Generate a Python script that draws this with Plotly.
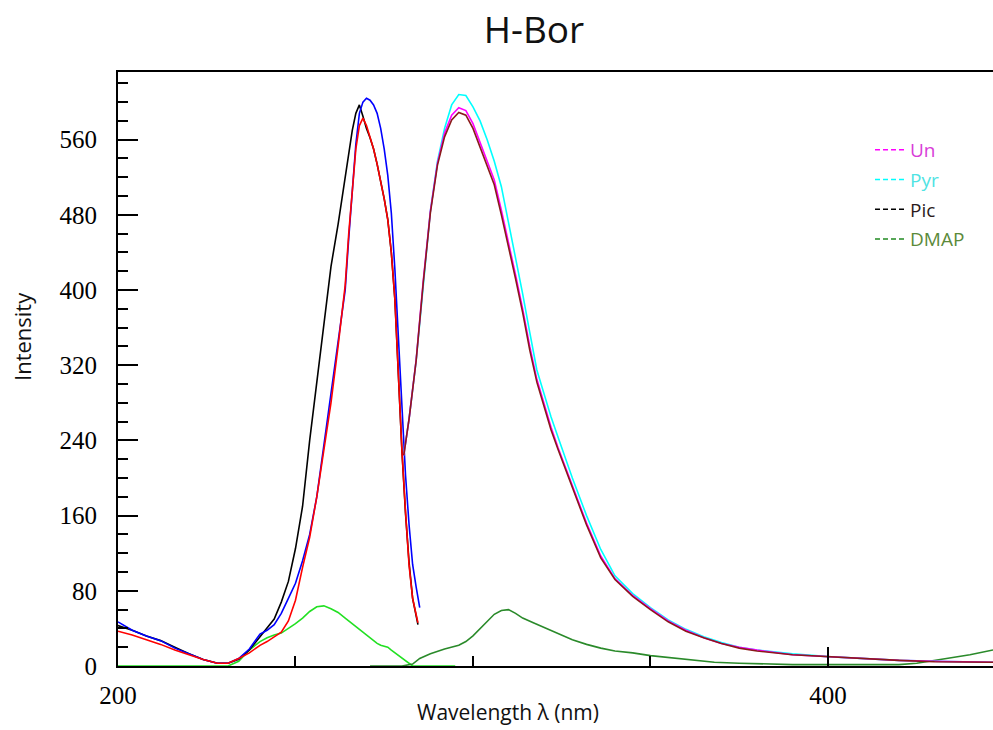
import plotly.graph_objects as go

# ---------------- data ----------------
# excitation side (left band)
ex_wl = [200, 204, 208, 212, 216, 220, 224, 228, 231, 234, 237, 240, 242, 244, 246, 248,
         250, 252, 254, 256, 258, 260, 262, 264, 265, 266, 267, 268, 269, 270, 271, 272,
         273, 274, 275, 276, 277, 278, 279, 280, 281, 282, 283, 284, 284.5, 285, 290, 295]

ex_blue = [47, 38, 32, 27, 19, 13, 7, 3, 3, 8, 18, 34, 38, 44, 56, 72,
           88, 112, 140, 180, 235, 285, 340, 400, 455, 510, 555, 588, 600, 604, 602, 597,
           588, 572, 550, 522, 482, 422, 348, 275, 203, 150, 108, 84, 72, 62, None, None]

ex_black = [43, 38, 32, 27, 20, 13, 7, 3, 3, 7, 17, 31, 40, 50, 68, 90,
            125, 170, 240, 300, 365, 425, 470, 522, 545, 570, 588, 597, 585, 572, 562, 550,
            534, 517, 497, 475, 440, 390, 308, 228, 162, 110, 72, 52, 44, None, None, None]

ex_red = [37, 33, 28, 23, 17, 12, 7, 3, 3, 8, 14, 22, 26, 31, 36, 48,
          70, 105, 137, 180, 228, 280, 340, 405, 460, 510, 550, 575, 583, 575, 563, 550,
          534, 517, 497, 475, 440, 390, 308, 228, 164, 107, 72, 53, 46, None, None, None]

ex_dmap = [0, 0, 0, 0, 0, 0, 0, 0, 0, 5, 17, 26, 30, 33, 35, 40,
           45, 51, 58, 63, 64, 61, 57, 51, 48, 45, 42, 38, 35, 32, 29, 26,
           24, 22, 21, 20, 17, 14, 11, 8, 5, 2, 0, 0, 0, 0, 0, 0]

# emission side (right band)
em_wl = [280.5, 282, 284, 286, 288, 290, 292, 294, 296, 298, 300, 302, 304, 306, 308, 310,
         312, 314, 316, 318, 320, 322, 324, 328, 332, 336, 340, 345, 350, 355, 360, 365,
         370, 375, 380, 390, 400, 410, 420, 430, 440, 446.5]

em_un = [224, 263, 326, 410, 484, 535, 567, 586, 594, 591, 577, 557, 537, 517, 485, 452,
         416, 380, 340, 305, 279, 254, 232, 192, 152, 117, 93, 75, 61, 48, 38, 30,
         24, 20, 17, 12, 10, 8, 6, 5, 4, 4]

em_pyr = [224, 263, 325, 408, 484, 537, 572, 597, 608, 607, 595, 580, 560, 537, 510, 472,
          435, 396, 355, 315, 290, 265, 243, 200, 160, 124, 96, 77, 62, 49, 39, 31,
          25, 20, 17, 13, 10, 8, 6, 5, 4.5, 4]

em_pic = [224, 263, 325, 408, 482, 533, 563, 581, 589, 586, 572, 552, 532, 512, 480, 447,
          412, 376, 336, 302, 276, 251, 230, 190, 150, 115, 92, 74, 60, 47, 37, 30,
          24, 19, 16, 12, 10, 7.5, 6, 4.5, 4, 4]

dm_wl = [271, 276, 280, 283, 285, 288, 292, 296, 298, 300, 302, 304, 306, 308, 310, 312,
         314, 317, 320, 324, 328, 332, 336, 340, 345, 350, 355, 360, 365, 368, 375, 383,
         390, 400, 410, 420, 425, 430, 435, 440, 446.5]
em_dmap = [0, 0, 0, 2, 8, 13, 18, 22, 26, 32, 40, 48, 55, 59, 60, 56,
           51, 46, 41, 35, 28, 23, 19, 16, 14, 11, 9, 7, 5, 4, 3, 2,
           1.5, 1.5, 1.5, 1.5, 3, 6, 9, 12, 17]

legend_names = ["Un", "Pyr", "Pic", "DMAP"]
legend_line_colors = ["#ff00ff", "#00ffff", "#000000", "#228b22"]
legend_text_colors = ["#d83cd8", "#4fe3e3", "#2b1b1b", "#5b8a3a"]

x_range = [200, 446.5]
y_range = [0, 632]

# ---------------- figure ----------------
fig = go.Figure()

LW = 1.6
traces = [
    (ex_wl, ex_dmap, "#22e022", "DMAP (ex)"),
    (dm_wl, em_dmap, "#2a8a2a", "DMAP (em)"),
    (ex_wl, ex_black, "#000000", "Pic (ex)"),
    (ex_wl, ex_blue, "#0000ff", "Pyr (ex)"),
    (ex_wl, ex_red, "#ff0000", "Un (ex)"),
    (em_wl, em_pyr, "#00ffff", "Pyr (em)"),
    (em_wl, em_un, "#ff00ff", "Un (em)"),
    (em_wl, em_pic, "#8b1a1a", "Pic (em)"),
]
for xs, ys, c, n in traces:
    fig.add_trace(go.Scatter(x=xs, y=ys, mode="lines", name=n, showlegend=False,
                             line=dict(color=c, width=LW), connectgaps=False))

for i, (n, lc, tc) in enumerate(zip(legend_names, legend_line_colors, legend_text_colors)):
    fig.add_trace(go.Scatter(x=[None], y=[None], mode="lines",
                             name=f"<span style='color:{tc}'>{n}</span>",
                             legendgroup=f"g{i}",
                             line=dict(color=lc, width=1.5, dash="5px,3px")))

tickfont = dict(family="Liberation Serif", size=25, color="#000000")

fig.update_layout(
    width=993, height=730,
    margin=dict(l=118, r=0, t=72, b=64),
    paper_bgcolor="white", plot_bgcolor="white",
    title=dict(text="H-Bor", x=534 / 993, xref="container", xanchor="center",
               y=1 - 30 / 730, yref="container", yanchor="middle",
               font=dict(family="Open Sans", size=37, color="#111111")),
    showlegend=True,
    legend=dict(x=(870 - 118) / 875, xanchor="left", y=(666 - 131) / 594, yanchor="top",
                bgcolor="rgba(0,0,0,0)", borderwidth=0, traceorder="grouped",
                tracegroupgap=2,
                font=dict(family="Open Sans", size=19)),
    xaxis=dict(range=x_range, showgrid=False, zeroline=False,
               showline=True, linecolor="#000000", linewidth=2, mirror=True,
               ticks="inside", ticklen=19, tickwidth=2, tickcolor="#000000",
               tick0=200, dtick=200, tickfont=tickfont, ticklabelstandoff=6,
               minor=dict(dtick=50, ticks="inside", ticklen=10, tickwidth=2,
                          tickcolor="#000000", showgrid=False)),
    yaxis=dict(range=y_range, showgrid=False, zeroline=False,
               showline=True, linecolor="#000000", linewidth=2,
               ticks="inside", ticklen=20, tickwidth=2, tickcolor="#000000",
               tick0=0, dtick=80, tickfont=tickfont, ticklabelstandoff=14,
               minor=dict(dtick=20, ticks="inside", ticklen=10, tickwidth=2,
                          tickcolor="#000000", showgrid=False)),
    annotations=[
        dict(text="Intensity", xref="paper", yref="paper",
             x=(22 - 118) / 875, y=(666 - 337) / 594, xanchor="center", yanchor="middle",
             textangle=-90, showarrow=False,
             font=dict(family="Open Sans", size=22, color="#111111")),
        dict(text="Wavelength λ (nm)", xref="paper", yref="paper",
             x=(508 - 118) / 875, y=(666 - 712) / 594, xanchor="center", yanchor="middle",
             showarrow=False,
             font=dict(family="Open Sans", size=21, color="#111111")),
    ],
)

fig.write_html("out.html")
